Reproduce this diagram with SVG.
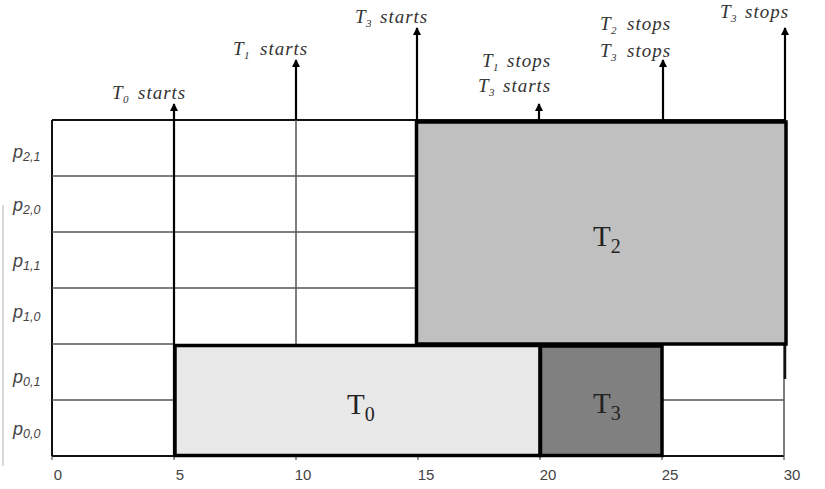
<svg xmlns="http://www.w3.org/2000/svg" width="825" height="489" viewBox="0 0 825 489">
<defs>
<marker id="ah" viewBox="0 0 8 8" refX="7" refY="4" markerWidth="8" markerHeight="8" markerUnits="userSpaceOnUse" orient="auto">
<path d="M0,0 L8,4 L0,8 Z" fill="#000"/>
</marker>
<style>
.ev{font-family:"Liberation Serif",serif;font-style:italic;font-size:19px;fill:#333;}
.evs{font-family:"Liberation Serif",serif;font-style:italic;font-size:11px;fill:#333;}
.ew{font-family:"Liberation Serif",serif;font-style:italic;font-size:19px;fill:#333;letter-spacing:1px;}
.row{font-family:"Liberation Sans",sans-serif;font-style:italic;font-size:18px;fill:#444;}
.rows{font-family:"Liberation Sans",sans-serif;font-style:italic;font-size:12.5px;fill:#444;}
.ax{font-family:"Liberation Sans",sans-serif;font-size:15px;fill:#444;text-anchor:middle;}
.tl{font-family:"Liberation Serif",serif;font-size:29px;fill:#222;}
.tls{font-family:"Liberation Serif",serif;font-size:20px;fill:#222;}
.g{stroke:#555;stroke-width:1.5;fill:none;}
.k{stroke:#111;stroke-width:2;fill:none;}
.arr{stroke:#000;stroke-width:2.2;fill:none;}
.box{stroke:#000;stroke-width:3.5;}
</style>
</defs>

<line x1="3" y1="205" x2="3" y2="466" stroke="#ccc" stroke-width="1.5"/>

<g id="grid">
<line class="k" x1="52" y1="120" x2="784" y2="120"/>
<line class="k" x1="52" y1="120" x2="52" y2="456"/>
<line class="g" x1="52" y1="176" x2="416" y2="176"/>
<line class="g" x1="52" y1="232" x2="416" y2="232"/>
<line class="g" x1="52" y1="288" x2="416" y2="288"/>
<line class="g" x1="52" y1="344" x2="175" y2="344"/>
<line class="g" x1="52" y1="400" x2="175" y2="400"/>
<line class="g" x1="662" y1="400" x2="784" y2="400"/>
<line class="k" x1="52" y1="456" x2="784" y2="456"/>
<line class="g" x1="784" y1="344" x2="784" y2="456"/>
<line stroke="#111" stroke-width="2.5" x1="785" y1="344" x2="785" y2="379"/>
<line class="g" x1="296" y1="120" x2="296" y2="344"/>
<g stroke="#333" stroke-width="1">
<line x1="52" y1="456" x2="52" y2="460"/>
<line x1="174" y1="456" x2="174" y2="460"/>
<line x1="296" y1="456" x2="296" y2="460"/>
<line x1="418" y1="456" x2="418" y2="460"/>
<line x1="540" y1="456" x2="540" y2="460"/>
<line x1="662" y1="456" x2="662" y2="460"/>
<line x1="784" y1="456" x2="784" y2="460"/>
</g>
</g>

<g id="T2">
<rect class="box" x="416.5" y="122" width="369.5" height="222" fill="#c0c0c0"/>
<text class="tl" x="593" y="246">T<tspan class="tls" dy="7">2</tspan></text>
</g>
<g id="T0">
<rect class="box" x="175" y="345.5" width="365" height="110" fill="#e8e8e8"/>
<text class="tl" x="347" y="414">T<tspan class="tls" dy="7">0</tspan></text>
</g>
<g id="T3">
<rect class="box" x="540.5" y="346" width="121.5" height="109.5" fill="#808080"/>
<text class="tl" x="593" y="413">T<tspan class="tls" dy="7">3</tspan></text>
</g>

<g id="connectors">
<line class="arr" x1="174" y1="456" x2="174" y2="104" marker-end="url(#ah)"/>
<line class="arr" x1="296" y1="120" x2="296" y2="60" marker-end="url(#ah)"/>
<line class="arr" x1="417" y1="122" x2="417" y2="28" marker-end="url(#ah)"/>
<line class="arr" x1="539" y1="121" x2="539" y2="104" marker-end="url(#ah)"/>
<line class="arr" x1="663" y1="121" x2="663" y2="60" marker-end="url(#ah)"/>
<line class="arr" x1="785" y1="121" x2="785" y2="28" marker-end="url(#ah)"/>
</g>

<g id="events">
<text class="ev" x="112" y="99">T</text><text class="evs" x="123" y="103">0</text><text class="ew" x="138" y="99">starts</text>
<text class="ev" x="233" y="55">T</text><text class="evs" x="244" y="59">1</text><text class="ew" x="260" y="55">starts</text>
<text class="ev" x="355" y="23">T</text><text class="evs" x="366" y="27">3</text><text class="ew" x="380" y="23">starts</text>
<text class="ev" x="482" y="67">T</text><text class="evs" x="493" y="71">1</text><text class="ew" x="507" y="67">stops</text>
<text class="ev" x="478" y="92">T</text><text class="evs" x="489" y="96">3</text><text class="ew" x="503" y="92">starts</text>
<text class="ev" x="600" y="30">T</text><text class="evs" x="611" y="34">2</text><text class="ew" x="627" y="30">stops</text>
<text class="ev" x="600" y="57">T</text><text class="evs" x="611" y="61">3</text><text class="ew" x="627" y="57">stops</text>
<text class="ev" x="720" y="18">T</text><text class="evs" x="731" y="22">3</text><text class="ew" x="745" y="18">stops</text>
</g>

<g id="rows">
<text class="row" x="13" y="158">p<tspan class="rows" dy="3">2,1</tspan></text>
<text class="row" x="13" y="211">p<tspan class="rows" dy="3">2,0</tspan></text>
<text class="row" x="13" y="267">p<tspan class="rows" dy="3">1,1</tspan></text>
<text class="row" x="13" y="318">p<tspan class="rows" dy="3">1,0</tspan></text>
<text class="row" x="13" y="383">p<tspan class="rows" dy="3">0,1</tspan></text>
<text class="row" x="13" y="435">p<tspan class="rows" dy="3">0,0</tspan></text>
</g>

<g id="axis">
<text class="ax" x="58" y="480">0</text>
<text class="ax" x="180" y="480">5</text>
<text class="ax" x="303" y="480">10</text>
<text class="ax" x="426" y="480">15</text>
<text class="ax" x="548" y="480">20</text>
<text class="ax" x="670" y="480">25</text>
<text class="ax" x="792" y="480">30</text>
</g>
</svg>
